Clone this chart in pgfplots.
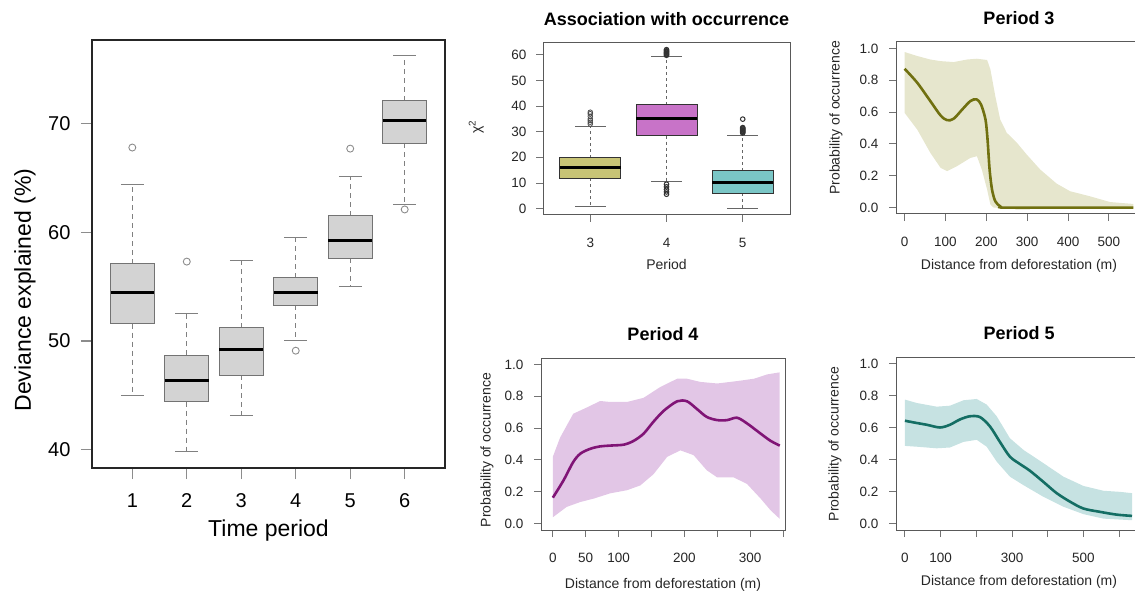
\documentclass[border=0pt]{standalone}
\usepackage{pgfplots}
\pgfplotsset{compat=1.18}
\usepgfplotslibrary{statistics}
\usepackage{fontspec}
\setmainfont{Liberation Sans}

\definecolor{boxgray}{RGB}{211,211,211}
\definecolor{olivefill}{RGB}{200,196,118}
\definecolor{magfill}{RGB}{200,115,200}
\definecolor{tealfill}{RGB}{122,198,198}
\definecolor{oliveline}{RGB}{112,112,16}
\definecolor{oliveband}{RGB}{230,230,205}
\definecolor{purpline}{RGB}{128,20,118}
\definecolor{purpband}{RGB}{226,198,230}
\definecolor{tealline}{RGB}{20,110,100}
\definecolor{tealband}{RGB}{198,226,226}

\pgfplotsset{
  rstyle/.style={
    scale only axis,
    axis line style={black!65, line width=1pt},
    tick align=outside,
    tick pos=left,
    tick style={black!55, line width=0.9pt},
    /pgf/number format/assume math mode=true,
  },
  % dashed whisker, solid staple (as in R)
  rwhiskers/.style={
    boxplot/draw/lower whisker/.code={
      \draw[/pgfplots/boxplot/every whisker/.try]
        (boxplot cs:\pgfplotsboxplotvalue{lower quartile}) --
        (boxplot cs:\pgfplotsboxplotvalue{lower whisker});
      \draw[/pgfplots/boxplot/every whisker/.try, solid]
        (boxplot whisker cs:\pgfplotsboxplotvalue{lower whisker},0) --
        (boxplot whisker cs:\pgfplotsboxplotvalue{lower whisker},1);
    },
    boxplot/draw/upper whisker/.code={
      \draw[/pgfplots/boxplot/every whisker/.try]
        (boxplot cs:\pgfplotsboxplotvalue{upper quartile}) --
        (boxplot cs:\pgfplotsboxplotvalue{upper whisker});
      \draw[/pgfplots/boxplot/every whisker/.try, solid]
        (boxplot whisker cs:\pgfplotsboxplotvalue{upper whisker},0) --
        (boxplot whisker cs:\pgfplotsboxplotvalue{upper whisker},1);
    },
  },
  smallpanel/.style={
    rstyle,
    width=246pt, height=172pt,
    major tick length=7pt,
    ymin=-0.04, ymax=1.04,
    ytick={0,0.2,0.4,0.6,0.8,1.0},
    tick label style={font=\fontsize{13.5}{15}\selectfont, text=black!85},
    xticklabel style={yshift=-13pt},
    yticklabel style={xshift=-7pt, /pgf/number format/.cd, fixed, fixed zerofill, precision=1},
    label style={font=\fontsize{14}{16}\selectfont, text=black!85},
    title style={font=\bfseries\fontsize{18}{20}\selectfont, yshift=8pt},
    xlabel={Distance from deforestation (m)},
    ylabel={Probability of occurrence},
  },
}

% Period 3: fitted curve, and band (upper edge forward, lower edge back)
\pgfplotstableread{
x y
0 0.872
31 0.784
63 0.669
88 0.579
104 0.549
120 0.558
141 0.616
161 0.669
176 0.68
187 0.648
198 0.553
203 0.428
208 0.24
214 0.113
222 0.04
234 0.008
246 0
400 0
560 0
}\pthreefit
\pgfplotstableread{
x y
0 0.977
31 0.952
63 0.93
88 0.92
120 0.914
153 0.93
177 0.935
202 0.927
210 0.868
222 0.70
234 0.553
250 0.47
275 0.407
299 0.333
332 0.239
372 0.151
405 0.103
454 0.071
503 0.035
560 0.023
560 0
218 0
210 0.019
202 0.113
189 0.239
177 0.323
161 0.312
128 0.26
104 0.229
88 0.25
63 0.344
31 0.49
0 0.595
}\pthreeband

% Period 4
\pgfplotstableread{
x y
0 0.163
16 0.27
31 0.387
42 0.44
57 0.47
72 0.485
87 0.49
108 0.496
123 0.52
138 0.565
153 0.64
169 0.71
189 0.768
204 0.768
219 0.72
234 0.67
250 0.65
265 0.65
280 0.665
295 0.63
316 0.565
331 0.52
345 0.49
}\pfourfit
\pgfplotstableread{
x y
0 0.42
11 0.54
31 0.69
52 0.73
72 0.77
87 0.764
113 0.764
138 0.79
163 0.857
189 0.91
204 0.91
224 0.89
250 0.88
280 0.895
306 0.91
326 0.937
345 0.95
345 0.03
331 0.084
316 0.157
295 0.25
275 0.29
250 0.29
234 0.335
214 0.43
194 0.46
174 0.42
153 0.31
133 0.24
113 0.21
87 0.19
62 0.157
42 0.136
21 0.105
0 0.04
}\pfourband

% Period 5
\pgfplotstableread{
x y
0 0.642
33 0.628
61 0.617
98 0.60
126 0.617
154 0.65
182 0.67
210 0.665
238 0.607
266 0.51
294 0.418
322 0.372
350 0.33
388 0.26
425 0.19
463 0.136
500 0.094
547 0.073
593 0.056
636 0.048
}\pfivefit
\pgfplotstableread{
x y
0 0.774
33 0.753
89 0.73
126 0.736
164 0.77
201 0.778
229 0.743
257 0.67
294 0.533
332 0.46
388 0.377
444 0.293
500 0.235
556 0.205
603 0.198
636 0.19
636 0.021
603 0.025
556 0.031
500 0.059
444 0.105
388 0.167
332 0.24
294 0.293
257 0.387
229 0.48
201 0.523
164 0.51
126 0.475
89 0.47
33 0.48
0 0.485
}\pfiveband

\begin{document}
\begin{tikzpicture}
\useasboundingbox (0,0) rectangle (1135pt,-596pt);

% ---- deviance explained by time period
\begin{axis}[rstyle, rwhiskers,
  at={(92pt,-40pt)}, anchor=north west,
  width=353pt, height=428pt,
  xmin=0.26, xmax=6.74, ymin=38.3, ymax=77.7,
  xtick={1,2,3,4,5,6}, ytick={40,50,60,70},
  major tick length=11pt,
  axis line style={black!85, line width=1.6pt},
  tick style={black!45, line width=1.2pt},
  tick label style={font=\fontsize{20}{22}\selectfont},
  xticklabel style={yshift=-11pt},
  yticklabel style={xshift=-7pt},
  label style={font=\fontsize{23}{26}\selectfont},
  xlabel={Time period}, ylabel={Deviance explained (\%)},
  xlabel style={at={(axis description cs:0.5,-0.145)}, anchor=center},
  ylabel style={at={(axis description cs:-0.19,0.416)}, anchor=center},
  boxplot/draw direction=y,
  boxplot/box extend=0.8, boxplot/whisker extend=0.42,
  boxplot/every box/.style={draw=black!55, fill=boxgray, line width=1pt},
  boxplot/every median/.style={black, line width=3pt},
  boxplot/every whisker/.style={black!50, line width=1pt, dash pattern=on 5pt off 4pt},
]
\addplot[mark=o, mark size=3.5pt, mark options={draw=black!45, line width=0.9pt},
  boxplot prepared={draw position=1, lower whisker=45.0, lower quartile=51.6,
    median=54.5, upper quartile=57.1, upper whisker=64.4}] coordinates {(1,67.8)};
\addplot[mark=o, mark size=3.5pt, mark options={draw=black!45, line width=0.9pt},
  boxplot prepared={draw position=2, lower whisker=39.8, lower quartile=44.4,
    median=46.4, upper quartile=48.7, upper whisker=52.5}] coordinates {(2,57.3)};
\addplot[mark=o, mark size=3.5pt, mark options={draw=black!45, line width=0.9pt},
  boxplot prepared={draw position=3, lower whisker=43.1, lower quartile=46.85,
    median=49.25, upper quartile=51.2, upper whisker=57.4}] coordinates {};
\addplot[mark=o, mark size=3.5pt, mark options={draw=black!45, line width=0.9pt},
  boxplot prepared={draw position=4, lower whisker=50.0, lower quartile=53.3,
    median=54.5, upper quartile=55.8, upper whisker=59.5}] coordinates {(4,49.1)};
\addplot[mark=o, mark size=3.5pt, mark options={draw=black!45, line width=0.9pt},
  boxplot prepared={draw position=5, lower whisker=55.0, lower quartile=57.6,
    median=59.2, upper quartile=61.5, upper whisker=65.1}] coordinates {(5,67.7)};
\addplot[mark=o, mark size=3.5pt, mark options={draw=black!45, line width=0.9pt},
  boxplot prepared={draw position=6, lower whisker=62.6, lower quartile=68.2,
    median=70.3, upper quartile=72.1, upper whisker=76.3}] coordinates {(6,62.1)};
\end{axis}

% ---- chi-square association
\begin{axis}[rstyle, rwhiskers,
  at={(543pt,-43pt)}, anchor=north west,
  width=247pt, height=172pt,
  xmin=2.38, xmax=5.62, ymin=-2.5, ymax=64.6,
  xtick={3,4,5}, ytick={0,10,20,30,40,50,60},
  major tick length=7pt,
  tick label style={font=\fontsize{13.5}{15}\selectfont, text=black!85},
  xticklabel style={yshift=-13pt},
  yticklabel style={xshift=-6pt},
  label style={font=\fontsize{14}{16}\selectfont, text=black!85},
  title style={font=\bfseries\fontsize{18}{20}\selectfont, yshift=8pt},
  title={Association with occurrence},
  xlabel={Period}, ylabel={χ\textsuperscript{2}},
  xlabel style={at={(axis description cs:0.5,-0.29)}, anchor=center},
  ylabel style={at={(axis description cs:-0.27,0.51)}, anchor=center},
  boxplot/draw direction=y,
  boxplot/box extend=0.8, boxplot/whisker extend=0.4,
  boxplot/every median/.style={black, line width=2.8pt},
  boxplot/every whisker/.style={black!60, line width=0.9pt, dash pattern=on 3pt off 3pt},
]
\addplot[mark=o, mark size=2.3pt, mark options={draw=black!70, line width=0.8pt},
  boxplot/every box/.style={draw=black!80, fill=olivefill, line width=0.9pt},
  boxplot prepared={draw position=3, lower whisker=1.0, lower quartile=11.85,
    median=16.0, upper quartile=19.9, upper whisker=32.0}]
  coordinates {(3,33.0) (3,33.7) (3,34.4) (3,35.0) (3,36.0) (3,37.0) (3,37.6)};
\addplot[mark=o, mark size=2.3pt, mark options={draw=black!80, line width=1pt},
  boxplot/every box/.style={draw=black!80, fill=magfill, line width=0.9pt},
  boxplot prepared={draw position=4, lower whisker=10.7, lower quartile=28.5,
    median=35.3, upper quartile=40.6, upper whisker=59.4}]
  coordinates {(4,59.8) (4,60.1) (4,60.4) (4,60.7) (4,61.0) (4,61.3) (4,61.6) (4,62.0)
               (4,9.5) (4,8.5) (4,7.5) (4,6.5) (4,5.6)};
\addplot[mark=o, mark size=2.3pt, mark options={draw=black!80, line width=1pt},
  boxplot/every box/.style={draw=black!80, fill=tealfill, line width=0.9pt},
  boxplot prepared={draw position=5, lower whisker=0.0, lower quartile=6.1,
    median=10.2, upper quartile=14.7, upper whisker=28.5}]
  coordinates {(5,29.5) (5,29.8) (5,30.1) (5,30.4) (5,30.7) (5,31.0) (5,31.3) (5,31.6) (5,34.9)};
\end{axis}

% ---- Period 3
\begin{axis}[smallpanel,
  at={(896pt,-42pt)}, anchor=north west,
  xmin=-21, xmax=581,
  xtick={0,100,200,300,400,500},
  title={Period 3},
  xlabel style={at={(axis description cs:0.5,-0.30)}, anchor=center},
  ylabel style={at={(axis description cs:-0.244,0.56)}, anchor=center},
]
\addplot[fill=oliveband, draw=none] table {\pthreeband} -- cycle;
\addplot[oliveline, line width=2.6pt, smooth] table {\pthreefit};
\end{axis}

% ---- Period 4
\begin{axis}[smallpanel,
  at={(541pt,-358pt)}, anchor=north west,
  width=244pt,
  xmin=-18, xmax=353,
  xtick={0,50,100,150,200,250,300,350},
  xticklabels={0,50,100,,200,,300,},
  title={Period 4},
  xlabel style={at={(axis description cs:0.5,-0.32)}, anchor=center},
  ylabel style={at={(axis description cs:-0.221,0.465)}, anchor=center},
]
\addplot[fill=purpband, draw=none] table {\pfourband} -- cycle;
\addplot[purpline, line width=2.6pt, smooth] table {\pfourfit};
\end{axis}

% ---- Period 5
\begin{axis}[smallpanel,
  at={(896pt,-357pt)}, anchor=north west,
  height=173pt,
  xmin=-25, xmax=664,
  xtick={0,100,200,300,400,500,600},
  xticklabels={0,100,,300,,500,},
  title={Period 5},
  xlabel style={at={(axis description cs:0.5,-0.30)}, anchor=center},
  ylabel style={at={(axis description cs:-0.248,0.497)}, anchor=center},
]
\addplot[fill=tealband, draw=none] table {\pfiveband} -- cycle;
\addplot[tealline, line width=2.6pt, smooth] table {\pfivefit};
\end{axis}
\end{tikzpicture}
\end{document}
